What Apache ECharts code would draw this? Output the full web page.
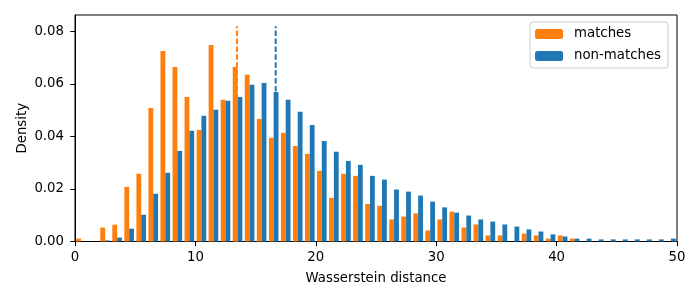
<!DOCTYPE html>
<html>
<head>
<meta charset="utf-8">
<script src="https://cdn.jsdelivr.net/npm/echarts@6/dist/echarts.min.js"></script>
<style>html,body{margin:0;padding:0;background:#fff}#c{width:700px;height:300px}</style>
</head>
<body>
<div id="c"></div>
<script>
// Histogram bins: width 1 from 0 to 50
var binStarts = [0,1,2,3,4,5,6,7,8,9,10,11,12,13,14,15,16,17,18,19,20,21,22,23,24,25,26,27,28,29,30,31,32,33,34,35,36,37,38,39,40,41,42,43,44,45,46,47,48,49];
var matches = [0.0011,0,0.0053,0.0064,0.0208,0.0258,0.0509,0.0726,0.0665,0.0551,0.0425,0.0749,0.0540,0.0665,0.0635,0.0467,0.0395,0.0414,0.0364,0.0334,0.0269,0.0166,0.0258,0.0250,0.0143,0.0136,0.0084,0.0095,0.0107,0.0042,0.0084,0.0114,0.0053,0.0065,0.0023,0.0023,0,0.0030,0.0023,0.0011,0.0023,0.0011,0,0,0,0,0,0,0,0];
var nonMatches = [0,0,0.0004,0.0015,0.0049,0.0102,0.0182,0.0262,0.0345,0.0422,0.0479,0.0502,0.0536,0.0551,0.0597,0.0604,0.0570,0.0540,0.0494,0.0444,0.0383,0.0342,0.0307,0.0292,0.0250,0.0236,0.0198,0.0190,0.0175,0.0152,0.0130,0.0110,0.0099,0.0084,0.0076,0.0065,0.0057,0.0046,0.0038,0.0027,0.0019,0.0011,0.0011,0.0008,0.0008,0.0008,0.0008,0.0008,0.0008,0.0011];
var meanMatches = 13.45;
var meanNonMatches = 16.67;
var lineTop = 0.082;
var xTicks = [0,10,20,30,40,50];
var yTicks = [0,0.02,0.04,0.06,0.08];
var yMax = 0.0863;

var categories = binStarts.map(function(b){ return String(b); });
var font = 'DejaVu Sans';
var chart = echarts.init(document.getElementById('c'), null, {renderer:'canvas'});
chart.setOption({
  animation: false,
  textStyle: {fontFamily: font},
  grid: {left: 75, right: 23, top: 15, bottom: 58.5, show: true, borderColor: '#000', borderWidth: 1, backgroundColor: 'transparent'},
  legend: {
    orient: 'vertical', right: 32, top: 22,
    padding: [4.5, 7, 4.5, 5],
    itemWidth: 28, itemHeight: 10, itemGap: 7, itemStyle: {borderWidth: 0},
    backgroundColor: 'rgba(255,255,255,0.8)', borderColor: '#cccccc', borderWidth: 1, borderRadius: 3,
    textStyle: {fontFamily: font, fontSize: 13.3, color: '#000', lineHeight: 15, padding: [0,0,0,6]},
    data: ['matches', 'non-matches']
  },
  xAxis: [
    {type: 'category', data: categories, show: false, boundaryGap: true},
    {type: 'value', min: 0, max: 50, interval: 10, position: 'bottom',
     name: 'Wasserstein distance', nameLocation: 'middle', nameGap: 31, nameMoveOverlap: false,
     nameTextStyle: {fontFamily: font, fontSize: 13.3, color: '#000'},
     axisLine: {show: true, lineStyle: {color: '#000', width: 1}},
     axisTick: {show: true, length: 4.7, lineStyle: {color: '#000'}, customValues: xTicks},
     axisLabel: {fontFamily: font, fontSize: 13.3, color: '#000', margin: 10, customValues: xTicks},
     splitLine: {show: false}}
  ],
  yAxis: [{type: 'value', min: 0, max: yMax, interval: 0.02,
     name: 'Density', nameLocation: 'middle', nameGap: 46, nameMoveOverlap: false,
     nameTextStyle: {fontFamily: font, fontSize: 13.3, color: '#000'},
     axisLine: {show: true, lineStyle: {color: '#000', width: 1}},
     axisTick: {show: true, length: 4.7, lineStyle: {color: '#000'}, customValues: yTicks},
     axisLabel: {fontFamily: font, fontSize: 13.3, color: '#000', margin: 11, customValues: yTicks,
       formatter: function(v){ return v.toFixed(2); }},
     splitLine: {show: false}}],
  series: [
    {name: 'matches', type: 'bar', xAxisIndex: 0, data: matches, barGap: '0%', barCategoryGap: '20%',
     itemStyle: {color: '#ff7f0e'}, z: 2},
    {name: 'non-matches', type: 'bar', xAxisIndex: 0, data: nonMatches, barGap: '0%', barCategoryGap: '20%',
     itemStyle: {color: '#1f77b4'}, z: 2},
    {name: 'meanMatches', type: 'line', xAxisIndex: 1, data: [[meanMatches, 0], [meanMatches, lineTop]],
     symbol: 'none', lineStyle: {color: '#ff7f0e', width: 2, type: [5.5, 2.4]}, z: 5, silent: true},
    {name: 'meanNonMatches', type: 'line', xAxisIndex: 1, data: [[meanNonMatches, 0], [meanNonMatches, lineTop]],
     symbol: 'none', lineStyle: {color: '#1f77b4', width: 2, type: [5.5, 2.4]}, z: 5, silent: true}
  ]
});
</script>
</body>
</html>
